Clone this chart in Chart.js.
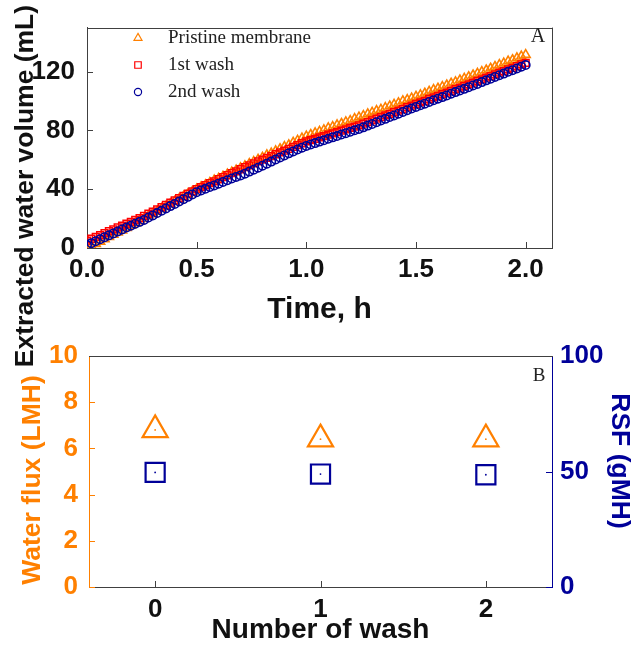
<!DOCTYPE html>
<html>
<head>
<meta charset="utf-8">
<script src="https://cdn.jsdelivr.net/npm/chart.js@4.4.1/dist/chart.umd.min.js"></script>
<style>
  html, body { margin: 0; padding: 0; background: #fff; }
  #wrap { position: relative; width: 631px; height: 647px; overflow: hidden; }
  #volChart { position: absolute; left: 0; top: 0; z-index: 2; }
  #fluxChart { position: absolute; left: 0; top: 320px; z-index: 1; }
</style>
</head>
<body>
<div id="wrap">
  <canvas id="volChart" width="631" height="380"></canvas>
  <canvas id="fluxChart" width="631" height="327"></canvas>
</div>
<script>
// --- panel A: extracted volume vs time ---
const timeH = [0.00,0.02,0.04,0.06,0.08,0.10,0.12,0.14,0.16,0.18,0.20,0.22,0.24,0.26,0.28,0.30,0.32,0.34,0.36,0.38,0.40,
  0.42,0.44,0.46,0.48,0.50,0.52,0.54,0.56,0.58,0.60,0.62,0.64,0.66,0.68,0.70,0.72,0.74,0.76,0.78,0.80,0.82,0.84,0.86,0.88,
  0.90,0.92,0.94,0.96,0.98,1.00,1.02,1.04,1.06,1.08,1.10,1.12,1.14,1.16,1.18,1.20,1.22,1.24,1.26,1.28,1.30,1.32,1.34,1.36,
  1.38,1.40,1.42,1.44,1.46,1.48,1.50,1.52,1.54,1.56,1.58,1.60,1.62,1.64,1.66,1.68,1.70,1.72,1.74,1.76,1.78,1.80,1.82,1.84,
  1.86,1.88,1.90,1.92,1.94,1.96,1.98,2.00];

const pristine = [0.0,1.4,2.9,4.3,6.0,7.6,9.1,10.6,12.0,13.7,15.2,16.7,18.3,
  19.8,21.5,23.1,24.8,26.7,28.2,29.9,31.6,33.3,35.0,36.7,38.3,40.0,
  41.4,42.9,44.3,46.0,47.2,48.6,50.1,51.5,52.8,54.4,55.8,57.3,
  58.7,60.2,61.6,63.3,64.5,65.9,67.4,68.8,70.0,71.7,73.1,74.6,76.0,
  77.1,78.2,79.2,80.3,81.6,82.5,83.6,84.6,85.7,86.6,87.9,89.0,
  90.0,91.1,92.2,93.3,94.2,95.4,96.5,97.6,98.7,100.0,100.8,101.9,103.0,
  104.1,105.2,106.4,107.7,108.6,109.7,110.8,112.0,112.9,114.2,115.3,116.4,
  117.6,118.7,119.9,121.0,122.2,123.4,124.6,125.7,127.1,128.0,129.2,130.4,131.5];

const wash1 = [5.0,6.3,7.6,8.8,10.1,11.4,12.7,14.0,15.2,16.5,17.8,19.1,20.4,
  21.8,23.3,24.8,26.3,27.8,29.4,30.9,32.4,33.9,35.4,37.0,38.5,40.0,
  41.4,42.7,44.1,45.4,46.8,48.2,49.5,50.9,52.2,53.6,55.0,56.3,
  57.6,58.9,60.1,61.3,62.6,63.8,65.1,66.3,67.5,68.8,70.0,71.3,72.5,
  73.4,74.3,75.3,76.2,77.1,78.0,78.9,79.9,80.8,81.7,82.6,83.5,
  84.6,85.7,86.8,88.0,89.1,90.2,91.3,92.4,93.5,94.6,95.8,96.9,98.0,
  99.1,100.2,101.4,102.5,103.6,104.7,105.8,107.0,108.1,109.2,110.3,111.4,
  112.6,113.7,114.8,115.9,117.0,118.2,119.3,120.4,121.5,122.6,123.8,124.9,126.0];

const wash2 = [2.0,3.3,4.6,6.0,7.3,8.6,9.9,11.2,12.6,13.9,15.2,16.5,17.8,
  19.1,20.7,22.2,23.8,25.3,26.9,28.5,30.0,31.6,33.2,34.8,36.4,38.0,
  39.2,40.3,41.5,42.6,43.8,45.0,46.1,47.3,48.4,49.4,50.6,52.0,
  53.3,54.7,56.0,57.4,58.8,60.2,61.6,63.0,64.4,65.7,67.0,68.3,69.5,
  70.5,71.4,72.4,73.3,74.3,75.3,76.2,77.2,78.1,79.1,80.1,81.0,
  82.1,83.3,84.4,85.6,86.8,87.9,89.1,90.2,91.4,92.6,93.7,94.9,96.0,
  97.1,98.2,99.4,100.5,101.6,102.7,103.8,105.0,106.1,107.2,108.3,109.4,
  110.6,111.7,112.9,114.1,115.2,116.4,117.6,118.7,119.9,121.0,122.2,123.4,124.5];

// --- panel B: flux and RSF per wash ---
const washNo = [0, 1, 2];
const waterFlux = [6.8, 6.4, 6.4];
const rsf = [49.6, 48.9, 48.6];

const SANS = '"Liberation Sans", Arial, sans-serif';
const SERIF = '"Liberation Serif", "Times New Roman", serif';
const ORANGE = '#ff8000';
const RED = '#ff0000';
const NAVY = '#000099';
const AXIS = '#404040';
const INK = '#111111';
const NONE = 'rgba(255,255,255,0)';

const toPoints = (xs, ys) => xs.map((x, i) => ({ x: x, y: ys[i] }));

// short tick marks pointing into the plot
const innerTicks = {
  id: 'innerTicks',
  afterDraw(chart, args, opts) {
    const { ctx, chartArea: a } = chart;
    const len = opts.length || 6;
    ctx.save();
    ctx.lineWidth = 1;
    for (const id in opts.colors) {
      const s = chart.scales[id];
      if (!s) continue;
      ctx.strokeStyle = opts.colors[id];
      ctx.beginPath();
      s.ticks.forEach(t => {
        const p = Math.round(s.getPixelForValue(t.value)) + 0.5;
        if (s.isHorizontal()) {
          if (p <= a.left + 1 || p >= a.right - 1) return;
          ctx.moveTo(p, a.bottom);
          ctx.lineTo(p, a.bottom - len);
        } else {
          if (p <= a.top + 1) return;
          const right = s.position === 'right';
          const x0 = right ? a.right : a.left;
          ctx.moveTo(x0, p);
          ctx.lineTo(x0 + (right ? -len : len), p);
        }
      });
      ctx.stroke();
    }
    ctx.restore();
  }
};

// top (and optionally right) edge of the plot box
const frame = {
  id: 'frame',
  afterDraw(chart, args, opts) {
    const { ctx, chartArea: a } = chart;
    ctx.save();
    ctx.strokeStyle = opts.color;
    ctx.lineWidth = 1;
    ctx.beginPath();
    ctx.moveTo(a.left, Math.round(a.top) + 0.5);
    ctx.lineTo(a.right + 1, Math.round(a.top) + 0.5);
    if (opts.right) {
      ctx.moveTo(Math.round(a.right) + 0.5, a.top);
      ctx.lineTo(Math.round(a.right) + 0.5, a.bottom);
    }
    ctx.stroke();
    ctx.restore();
  }
};

// free text: rotated axis titles and panel letters
const notes = {
  id: 'notes',
  afterDraw(chart, args, opts) {
    const ctx = chart.ctx;
    (opts.items || []).forEach(n => {
      ctx.save();
      ctx.translate(n.x, n.y);
      ctx.rotate((n.rotation || 0) * Math.PI / 180);
      ctx.font = n.font;
      ctx.fillStyle = n.color;
      ctx.textAlign = n.align || 'center';
      ctx.textBaseline = n.baseline || 'middle';
      ctx.fillText(n.text, 0, 0);
      ctx.restore();
    });
  }
};

// legend drawn with each dataset's own point style
const markerLegend = {
  id: 'markerLegend',
  afterDraw(chart, args, opts) {
    const ctx = chart.ctx;
    chart.data.datasets.forEach((ds, i) => {
      const y = opts.y + i * opts.rowGap;
      ctx.save();
      ctx.strokeStyle = ds.borderColor;
      ctx.fillStyle = NONE;
      ctx.lineWidth = 1.2;
      Chart.helpers.drawPoint(ctx, {
        pointStyle: ds.pointStyle, radius: opts.radius[i], rotation: 0, borderWidth: 1.2
      }, opts.x, y);
      ctx.font = opts.font;
      ctx.fillStyle = opts.color;
      ctx.textAlign = 'left';
      ctx.textBaseline = 'middle';
      ctx.fillText(ds.label, opts.textX, y);
      ctx.restore();
    });
  }
};

const tickFont = { family: SANS, size: 26, weight: 'bold', lineHeight: 1.2 };

new Chart(document.getElementById('volChart'), {
  type: 'scatter',
  data: {
    datasets: [
      { label: 'Pristine membrane', data: toPoints(timeH, pristine), pointStyle: 'triangle',
        pointRadius: 5.2, borderColor: ORANGE, backgroundColor: NONE, borderWidth: 1.6, order: 3 },
      { label: '1st wash', data: toPoints(timeH, wash1), pointStyle: 'rect',
        pointRadius: 4.8, borderColor: RED, backgroundColor: NONE, borderWidth: 1.5, order: 2 },
      { label: '2nd wash', data: toPoints(timeH, wash2), pointStyle: 'circle',
        pointRadius: 4.2, borderColor: NAVY, backgroundColor: NONE, borderWidth: 1.6, order: 1 }
    ]
  },
  options: {
    responsive: false,
    animation: false,
    events: [],
    layout: { padding: { top: 17, right: 79, bottom: 50, left: 0 } },
    scales: {
      x: {
        type: 'linear', min: 0, max: 2.12,
        grid: { display: false, drawTicks: false },
        border: { color: AXIS, width: 1 },
        ticks: { stepSize: 0.5, includeBounds: false, padding: 6, color: INK, font: tickFont,
                 callback: v => v.toFixed(1) },
        title: { display: true, text: 'Time, h', color: INK, padding: { top: 0, bottom: 2 },
                 font: { family: SANS, size: 30, weight: 'bold', lineHeight: 1.2 } },
        afterFit: s => { s.height = 82; }
      },
      y: {
        type: 'linear', min: 0, max: 150,
        grid: { display: false, drawTicks: false },
        border: { color: AXIS, width: 1 },
        ticks: { stepSize: 40, includeBounds: false, padding: 12, color: INK, font: tickFont },
        afterFit: s => { s.width = 87; }
      }
    },
    plugins: {
      legend: { display: false },
      tooltip: { enabled: false },
      innerTicks: { length: 6, colors: { x: AXIS, y: AXIS } },
      frame: { color: AXIS, right: true },
      markerLegend: { x: 138, y: 38, rowGap: 27, textX: 168, radius: [4.6, 4.6, 3.6],
                      color: '#222', font: '19px ' + SERIF },
      notes: {
        items: [
          { text: 'Extracted water volume (mL)', x: 33, y: 186, rotation: -90, baseline: 'alphabetic',
            font: 'bold 26.5px ' + SANS, color: INK },
          { text: 'A', x: 538, y: 37, font: '20px ' + SERIF, color: '#222' }
        ]
      }
    }
  },
  plugins: [innerTicks, frame, markerLegend, notes]
});

new Chart(document.getElementById('fluxChart'), {
  type: 'scatter',
  data: {
    datasets: [
      { label: 'Water flux', data: toPoints(washNo, waterFlux), yAxisID: 'y', pointStyle: 'triangle',
        pointRadius: 14.5, borderColor: ORANGE, backgroundColor: NONE, borderWidth: 2.2 },
      { label: 'RSF', data: toPoints(washNo, rsf), yAxisID: 'y1', pointStyle: 'rect',
        pointRadius: 13.5, borderColor: NAVY, backgroundColor: NONE, borderWidth: 2.2 },
      // small centre dots of the hollow markers
      { label: 'Water flux centre', data: toPoints(washNo, waterFlux), yAxisID: 'y', pointStyle: 'circle',
        pointRadius: 0.9, borderWidth: 0, backgroundColor: ORANGE },
      { label: 'RSF centre', data: toPoints(washNo, rsf), yAxisID: 'y1', pointStyle: 'circle',
        pointRadius: 0.9, borderWidth: 0, backgroundColor: NAVY }
    ]
  },
  options: {
    responsive: false,
    animation: false,
    events: [],
    layout: { padding: { top: 36, right: 0, bottom: 0, left: 0 } },
    scales: {
      x: {
        type: 'linear', min: -0.4, max: 2.4,
        grid: { display: false, drawTicks: false },
        border: { color: AXIS, width: 1 },
        ticks: { stepSize: 1, includeBounds: false, padding: 7, color: INK, font: tickFont },
        title: { display: true, text: 'Number of wash', color: INK, padding: { top: 0, bottom: 0 },
                 font: { family: SANS, size: 28, weight: 'bold', lineHeight: 1.2 } },
        afterFit: s => { s.height = 60; }
      },
      y: {
        type: 'linear', position: 'left', min: 0, max: 10,
        grid: { display: false, drawTicks: false },
        border: { color: ORANGE, width: 1 },
        ticks: { stepSize: 2, padding: 11, color: ORANGE, font: tickFont },
        afterFit: s => { s.width = 89; }
      },
      y1: {
        type: 'linear', position: 'right', min: 0, max: 100,
        grid: { display: false, drawTicks: false },
        border: { color: NAVY, width: 1 },
        ticks: { stepSize: 50, padding: 8, color: NAVY, font: tickFont },
        afterFit: s => { s.width = 79; }
      }
    },
    plugins: {
      legend: { display: false },
      tooltip: { enabled: false },
      innerTicks: { length: 6, colors: { x: AXIS, y: ORANGE, y1: NAVY } },
      frame: { color: AXIS, right: false },
      notes: {
        items: [
          { text: 'Water flux (LMH)', x: 40, y: 160, rotation: -90, baseline: 'alphabetic',
            font: 'bold 26.5px ' + SANS, color: ORANGE },
          { text: 'RSF (gMH)', x: 612, y: 141, rotation: 90, baseline: 'alphabetic',
            font: 'bold 26.5px ' + SANS, color: NAVY },
          { text: 'B', x: 539, y: 56, font: '19px ' + SERIF, color: '#222' }
        ]
      }
    }
  },
  plugins: [innerTicks, frame, notes]
});
</script>
</body>
</html>
